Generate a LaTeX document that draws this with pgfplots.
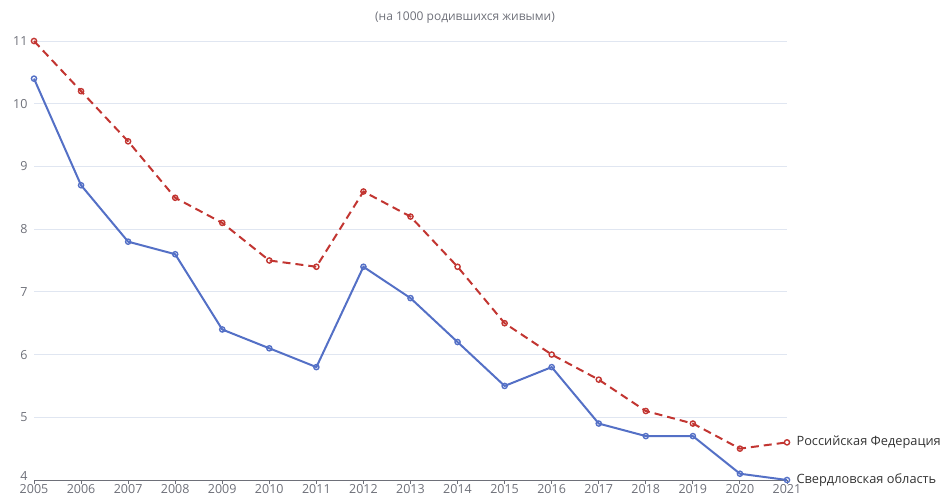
\documentclass[border=0pt]{standalone}
\usepackage{fontspec}
\setmainfont{Open Sans}
\usepackage{pgfplots}
\pgfplotsset{compat=1.18}

\definecolor{rfred}{HTML}{C23531}
\definecolor{sverblue}{HTML}{5470C6}
\definecolor{gridc}{HTML}{E0E6F1}
\definecolor{axisc}{HTML}{6E7079}
\definecolor{tickc}{HTML}{6E7079}

\pgfplotstableread{
year rf sv
2005 11.0 10.4
2006 10.2 8.7
2007 9.4 7.8
2008 8.5 7.6
2009 8.1 6.4
2010 7.5 6.1
2011 7.4 5.8
2012 8.6 7.4
2013 8.2 6.9
2014 7.4 6.2
2015 6.5 5.5
2016 6.0 5.8
2017 5.6 4.9
2018 5.1 4.7
2019 4.9 4.7
2020 4.5 4.1
2021 4.6 4.0
}\mortality

\begin{document}
\begin{tikzpicture}[x=1pt,y=1pt]
\path[use as bounding box] (0,0) rectangle (941,497);
\node[text=axisc, font=\fontsize{12}{14}\selectfont] at (465,479) {(на 1000 родившихся живыми)};
\begin{axis}[
    at={(34pt,17pt)}, anchor=south west,
    scale only axis,
    width=753pt, height=439pt,
    xmin=2005, xmax=2021,
    ymin=4, ymax=11,
    xtick={2005,...,2021},
    ytick={5,...,11},
    extra y ticks={4},
    extra y tick style={yticklabel style={yshift=4pt}, grid=none},
    /pgf/number format/1000 sep={},
    /pgf/number format/assume math mode=true,
    ticklabel style={font=\fontsize{12.5}{14}\selectfont, text=tickc},
    ymajorgrids,
    grid style={gridc, line width=0.8pt},
    axis x line*=bottom,
    axis line style={axisc, line width=0.8pt, -},
    y axis line style={draw=none},
    ytick style={draw=none},
    xtick style={axisc, line width=0.8pt},
    xtick align=outside,
    major tick length=4pt,
    yticklabel style={xshift=-3pt},
    xticklabel style={yshift=3pt},
    clip=false,
]
\addplot[rfred, line width=2pt, dash pattern=on 8pt off 5pt,
    mark=o, mark size=2.6pt, mark options={solid, fill=white, line width=1.4pt}]
    table[x=year, y=rf] {\mortality};
\addplot[sverblue, line width=2pt,
    mark=o, mark size=2.6pt, mark options={solid, fill=white, line width=1.4pt}]
    table[x=year, y=sv] {\mortality};
\node[anchor=west, text=black!80, font=\fontsize{12.8}{14}\selectfont] at (axis cs:2021,4.6) [xshift=6pt] {Российская Федерация};
\node[anchor=west, text=black!80, font=\fontsize{12.8}{14}\selectfont] at (axis cs:2021,4.0) [xshift=6pt] {Свердловская область};
\end{axis}
\end{tikzpicture}
\end{document}
